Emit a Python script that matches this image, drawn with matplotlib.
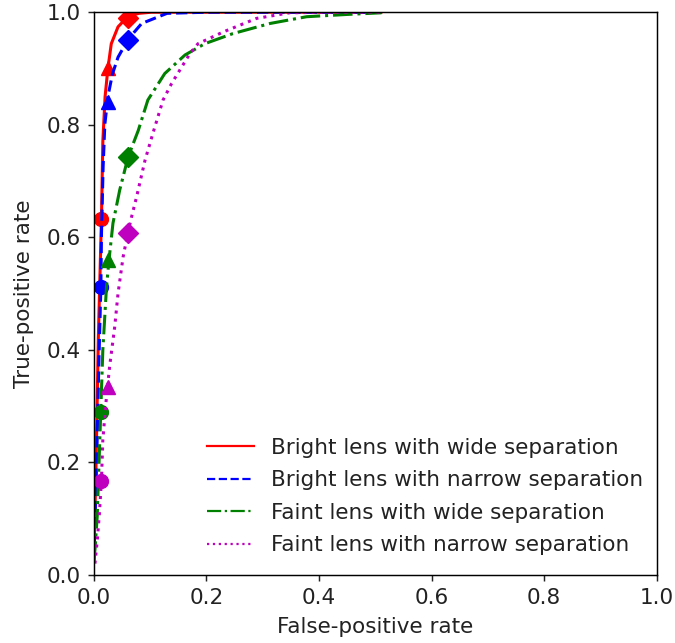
import matplotlib
matplotlib.use("Agg")
import matplotlib.pyplot as plt
from matplotlib.lines import Line2D

# ROC curves (false-positive rate, true-positive rate)
fpr_bright_wide = [0.0, 0.004, 0.008, 0.0136, 0.016, 0.02, 0.025, 0.031, 0.043, 0.061, 0.08, 0.102, 0.2, 0.35, 0.51]
tpr_bright_wide = [0.025, 0.2, 0.42, 0.636, 0.77, 0.85, 0.9, 0.944, 0.974, 0.993, 0.998, 1.0, 1.0, 1.0, 1.0]

fpr_bright_narrow = [0.0, 0.005, 0.009, 0.0125, 0.0136, 0.0165, 0.0195, 0.025, 0.033, 0.043, 0.061, 0.085, 0.13, 0.2, 0.35, 0.51]
tpr_bright_narrow = [0.025, 0.2, 0.38, 0.512, 0.607, 0.725, 0.80, 0.85, 0.89, 0.92, 0.952, 0.98, 0.998, 1.0, 1.0, 1.0]

fpr_faint_wide = [0.0, 0.002, 0.006, 0.01, 0.013, 0.016, 0.0195, 0.0225, 0.027, 0.034, 0.046, 0.061, 0.079, 0.096,
                  0.126, 0.162, 0.197, 0.247, 0.313, 0.378, 0.449, 0.511]
tpr_faint_wide = [0.025, 0.045, 0.104, 0.222, 0.311, 0.40, 0.46, 0.512, 0.56, 0.625, 0.684, 0.743, 0.79, 0.844,
                  0.891, 0.924, 0.944, 0.962, 0.98, 0.992, 0.996, 0.999]

fpr_faint_narrow = [0.002, 0.006, 0.01, 0.0136, 0.016, 0.022, 0.028, 0.037, 0.043, 0.052, 0.061, 0.067, 0.076, 0.091,
                    0.105, 0.123, 0.138, 0.171, 0.185, 0.23, 0.289, 0.348, 0.42, 0.51]
tpr_faint_narrow = [0.02, 0.06, 0.11, 0.169, 0.24, 0.311, 0.37, 0.44, 0.50, 0.565, 0.61, 0.636, 0.672, 0.737,
                    0.785, 0.844, 0.873, 0.927, 0.944, 0.965, 0.989, 0.999, 1.0, 1.0]

# Operating points at three thresholds (circle, triangle, diamond)
pts_fpr = [0.012, 0.025, 0.06]
pts_bright_wide = [0.633, 0.90, 0.99]
pts_bright_narrow = [0.512, 0.84, 0.95]
pts_faint_wide = [0.29, 0.56, 0.742]
pts_faint_narrow = [0.167, 0.334, 0.608]

labels = ["Bright lens with wide separation",
          "Bright lens with narrow separation",
          "Faint lens with wide separation",
          "Faint lens with narrow separation"]
colors = ["r", "b", "g", "m"]
styles = ["-", "--", "-.", ":"]
markers = ["o", "^", "D"]

curves = [(fpr_bright_wide, tpr_bright_wide),
          (fpr_bright_narrow, tpr_bright_narrow),
          (fpr_faint_wide, tpr_faint_wide),
          (fpr_faint_narrow, tpr_faint_narrow)]
points = [pts_bright_wide, pts_bright_narrow, pts_faint_wide, pts_faint_narrow]

FS = 15.5
TXT = "#222222"

fig = plt.figure(figsize=(6.75, 6.43), dpi=100)
ax = fig.add_axes([0.139, 0.106, 0.834, 0.875])

for (fx, ty), pts, c, ls in zip(curves, points, colors, styles):
    ax.plot(fx, ty, color=c, linestyle=ls, lw=2.2)
    for px, py, mk in zip(pts_fpr, pts, markers):
        ax.plot(px, py, marker=mk, color=c, markersize=10, linestyle="none")

ax.set_xlim(0, 1.0)
ax.set_ylim(0, 1.0)
ticks = [0.0, 0.2, 0.4, 0.6, 0.8, 1.0]
ax.set_xticks(ticks)
ax.set_yticks(ticks)
for sp in ax.spines.values():
    sp.set_linewidth(1.05)
ax.tick_params(labelsize=FS, colors=TXT, labelcolor=TXT, length=4.6, width=1.05, pad=4.6)
ax.set_xlabel("False-positive rate", fontsize=FS, color=TXT, labelpad=7)
ax.set_ylabel("True-positive rate", fontsize=FS, color=TXT, labelpad=9)

handles = [Line2D([], [], color=c, linestyle=ls, lw=1.6) for c, ls in zip(colors, styles)]
leg = ax.legend(handles, labels, loc="lower right", bbox_to_anchor=(1.011, 0.0),
                frameon=False, fontsize=FS, handlelength=2.2,
                labelspacing=0.58, borderaxespad=0.5)
for t in leg.get_texts():
    t.set_color(TXT)

fig.savefig("out.png", dpi=100)
